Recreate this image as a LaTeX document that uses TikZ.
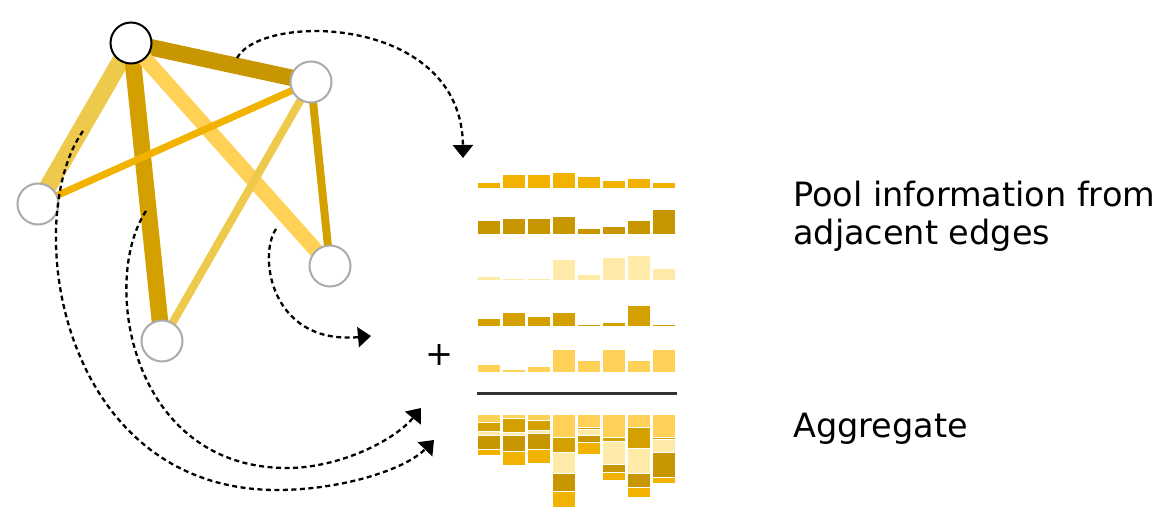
\documentclass[tikz,border=0pt]{standalone}
\usepackage{fontspec}
\setmainfont{DejaVu Sans}
\usetikzlibrary{arrows.meta}
\definecolor{goldbar}{HTML}{F2B200}
\definecolor{darkbar}{HTML}{C89600}
\definecolor{palebar}{HTML}{FFEAA8}
\definecolor{ochrebar}{HTML}{D4A000}
\definecolor{lightbar}{HTML}{FFD257}
\definecolor{mustard}{HTML}{EDCA4C}
\definecolor{ringgray}{HTML}{ABABAB}
\definecolor{rulegray}{HTML}{333333}
\tikzset{
  vertex/.style={circle, draw=ringgray, line width=2pt, fill=white,
    minimum size=41pt, inner sep=0pt},
  focus/.style={vertex, draw=black},
  link/.style={line width=#1, line cap=butt},
  seg/.style={draw=white, line width=0.6pt},
  flow/.style={-{Triangle[length=13pt,width=20pt]}, line width=2.3pt,
    dash pattern=on 5pt off 3.5pt},
  sidetext/.style={font=\fontsize{33.5}{37.5}\selectfont, inner sep=0pt,
    align=left, text=black}
}

\begin{document}
\begin{tikzpicture}[x=1pt, y=-1pt]
\useasboundingbox (0,0) rectangle (1168,520);
% graph
\coordinate (ctop) at (131,43);
\coordinate (crt) at (311,82);
\coordinate (cleft) at (38,204);
\coordinate (cbot) at (162,341);
\coordinate (crb) at (330,266);
\draw[link=17.5pt, mustard] (ctop) -- (cleft);
\draw[link=16.5pt, ochrebar] (ctop) -- (cbot);
\draw[link=16.5pt, darkbar] (ctop) -- (crt);
\draw[link=15pt, lightbar] (ctop) -- (crb);
\draw[link=7pt, goldbar] (cleft) -- (crt);
\draw[link=8pt, mustard] (crt) -- (cbot);
\draw[link=8pt, ochrebar] (crt) -- (crb);
\node[focus] (top) at (ctop) {};
\node[vertex] (rt) at (crt) {};
\node[vertex] (left) at (cleft) {};
\node[vertex] (bot) at (cbot) {};
\node[vertex] (rb) at (crb) {};
% edge features and their sum
\foreach \a/\b/\c/\d/\e [count=\i from 0] in
  {6/14.7/4/8.3/8.3, 14/16.7/2.3/14.7/3.7, 14/16.7/2.3/10.3/6,
   16/18.7/21/14.7/23, 12/6.3/6.3/2.3/12.7, 8/8.3/23/4/23,
   10/14.7/25/21/12.7, 6/25.3/12.7/2.3/23}{
  \pgfmathsetmacro\x{477+25*\i}
  \filldraw[seg, fill=goldbar] (\x,188) rectangle ++(23,-\a);
  \filldraw[seg, fill=darkbar] (\x,234.7) rectangle ++(23,-\b);
  \filldraw[seg, fill=palebar] (\x,280.7) rectangle ++(23,-\c);
  \filldraw[seg, fill=ochrebar] (\x,326.7) rectangle ++(23,-\d);
  \filldraw[seg, fill=lightbar] (\x,372.7) rectangle ++(23,-\e);
  \pgfmathsetmacro\ya{414.3+\e}
  \pgfmathsetmacro\yb{\ya+\d}
  \pgfmathsetmacro\yc{\yb+\c}
  \pgfmathsetmacro\yd{\yc+\b}
  \filldraw[seg, fill=lightbar] (\x,414.3) rectangle ++(23,\e);
  \filldraw[seg, fill=ochrebar] (\x,\ya) rectangle ++(23,\d);
  \filldraw[seg, fill=palebar] (\x,\yb) rectangle ++(23,\c);
  \filldraw[seg, fill=darkbar] (\x,\yc) rectangle ++(23,\b);
  \filldraw[seg, fill=goldbar] (\x,\yd) rectangle ++(23,\a);
}
\draw[line width=2.5pt, rulegray] (477,393.3) -- (677,393.3);
\node[sidetext] (plus) at (440,355) {+};
\node[sidetext, anchor=base west] (pooltext) at (793,244.2) {Pool information from\\adjacent edges};
\node[sidetext, anchor=base west] (aggtext) at (793,437.3) {Aggregate};
% pooling arrows
\coordinate (s1) at (237,58);
\coordinate (t1) at (463,158);
\coordinate (s2) at (276,229);
\coordinate (t2) at (371,336);
\coordinate (s3) at (146,211);
\coordinate (m3) at (287,468);
\coordinate (t3) at (421,408);
\coordinate (s4) at (83,131);
\coordinate (m4) at (277,490);
\coordinate (t4) at (434,440);
\draw[flow] (s1) .. controls (262,12) and (462,15) .. (t1);
\draw[flow] (s2) .. controls (258,255) and (270,345) .. (t2);
\draw[flow] (s3) .. controls (100,280) and (130,468) .. (m3)
  .. controls (340,468) and (395,440) .. (t3);
\draw[flow] (s4) .. controls (20,220) and (60,490) .. (m4)
  .. controls (340,490) and (405,470) .. (t4);
\end{tikzpicture}
\end{document}
